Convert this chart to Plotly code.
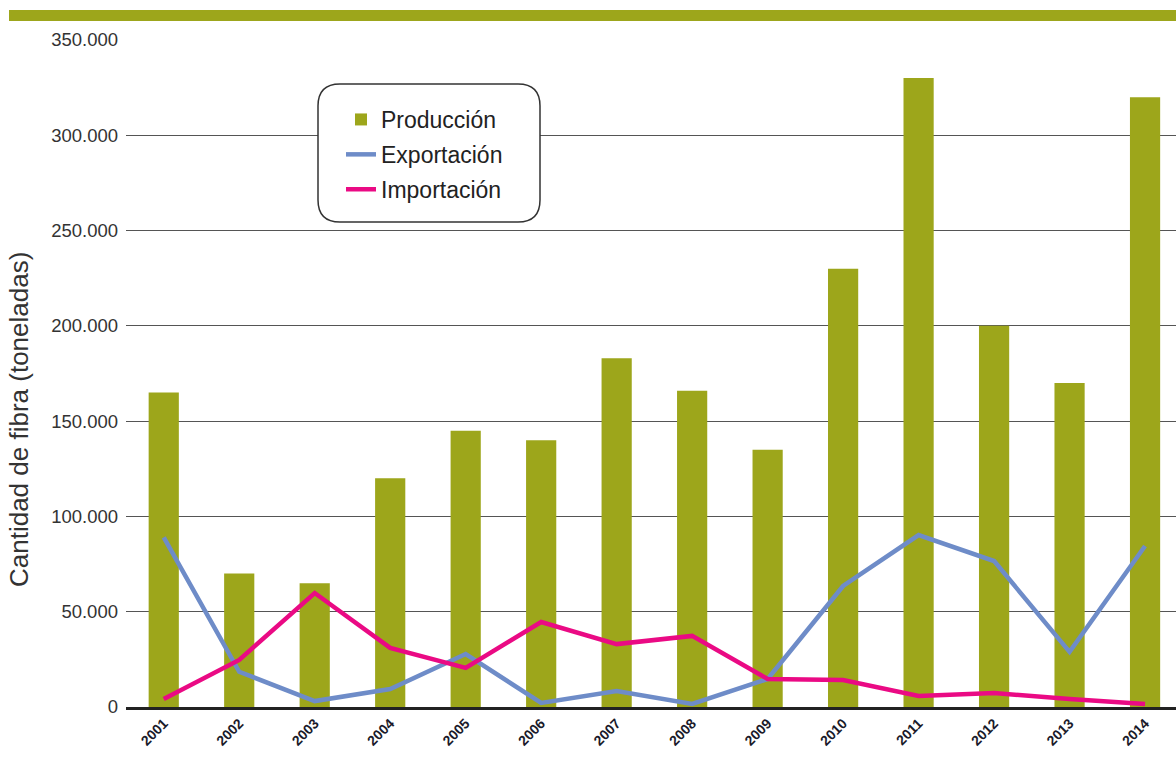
import plotly.graph_objects as go

years = ["2001", "2002", "2003", "2004", "2005", "2006", "2007",
         "2008", "2009", "2010", "2011", "2012", "2013", "2014"]
produccion = [165000, 70000, 65000, 120000, 145000, 140000, 183000,
              166000, 135000, 230000, 330000, 200000, 170000, 320000]
exportacion = [89000, 18500, 3100, 9400, 27800, 2100, 8400,
               1600, 14700, 63500, 90200, 76600, 28900, 84500]
importacion = [4200, 24700, 59800, 31000, 20500, 44600, 33000,
               37300, 14700, 14200, 5800, 7300, 4200, 1600]
y_ticks = [0, 50000, 100000, 150000, 200000, 250000, 300000, 350000]
y_title = "Cantidad de fibra (toneladas)"

OLIVE = "#9DA61B"
BLUE = "#6E8CC8"
PINK = "#EA0A84"

W, H = 1176, 768
L, T, B = 126, 40, 61
PW = W - L
PH = H - T - B

def px(x):
    return (x - L) / PW

def py(y):
    return (H - B - y) / PH

fig = go.Figure()
fig.add_trace(go.Bar(x=years, y=produccion, name="Producción",
                     marker=dict(color=OLIVE, line=dict(width=0)),
                     legendgroup="a"))
fig.add_trace(go.Scatter(x=years, y=exportacion, name="Exportación",
                         mode="lines", line=dict(color=BLUE, width=4.5),
                         legendgroup="b"))
fig.add_trace(go.Scatter(x=years, y=importacion, name="Importación",
                         mode="lines", line=dict(color=PINK, width=4.5),
                         legendgroup="c"))

# rounded legend box
x0, x1, y0, y1, r = 318, 540, 84, 222, 22
X0, X1 = px(x0), px(x1)
Y0, Y1 = py(y0), py(y1)
rx, ry = r / PW, r / PH
path = (f"M {X0+rx},{Y0} L {X1-rx},{Y0} Q {X1},{Y0} {X1},{Y0-ry} "
        f"L {X1},{Y1+ry} Q {X1},{Y1} {X1-rx},{Y1} "
        f"L {X0+rx},{Y1} Q {X0},{Y1} {X0},{Y1+ry} "
        f"L {X0},{Y0-ry} Q {X0},{Y0} {X0+rx},{Y0} Z")

fig.update_layout(
    width=W, height=H,
    margin=dict(l=L, r=0, t=T, b=B, autoexpand=False),
    paper_bgcolor="white", plot_bgcolor="white",
    separators=",.",
    font=dict(family="Liberation Sans, Arial, sans-serif", color="#333"),
    bargap=0.6,
    showlegend=True,
    legend=dict(xref="paper", yref="paper",
                x=px(341), y=py(98), xanchor="left", yanchor="top",
                bgcolor="rgba(0,0,0,0)", borderwidth=0,
                font=dict(size=23, color="#222"),
                traceorder="grouped", tracegroupgap=2,
                itemwidth=30),
    shapes=[
        dict(type="rect", xref="paper", yref="paper",
             x0=px(9), x1=1.0, y0=py(21), y1=py(10),
             fillcolor=OLIVE, line=dict(width=0), layer="above"),
        dict(type="path", xref="paper", yref="paper", path=path,
             fillcolor="white", line=dict(color="#333", width=1.5),
             layer="above"),
    ],
    annotations=[
        dict(text=y_title, xref="paper", yref="paper",
             x=px(19), y=py(420), textangle=-90, showarrow=False,
             xanchor="center", yanchor="middle",
             font=dict(size=26, color="#333")),
    ],
    xaxis=dict(range=[-0.5, 13.41], tickangle=-45,
               tickfont=dict(size=14, color="#1a1a2a", weight="bold"),
               showgrid=False, showline=True, linecolor="#222",
               linewidth=2.5, ticks="", fixedrange=True, automargin=False),
    yaxis=dict(range=[0, 350000], tickvals=y_ticks,
               tickformat=",d",
               tickfont=dict(size=18.5, color="#333"),
               showgrid=True, gridcolor="#555", gridwidth=1,
               zeroline=False, showline=False, ticks="",
               ticklabelstandoff=7, automargin=False,
               fixedrange=True),
)

fig.write_html("out.html")
